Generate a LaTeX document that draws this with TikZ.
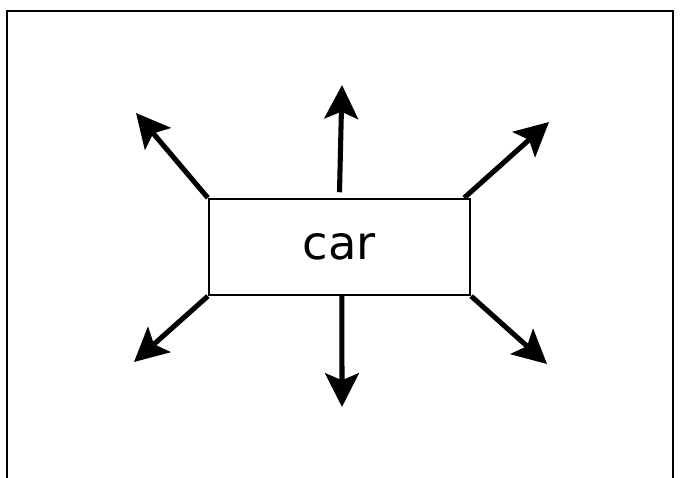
\documentclass[tikz,border=0pt]{standalone}
\usepackage{fontspec}
\setmainfont{DejaVu Sans}
\usepackage{tikz}
\usetikzlibrary{arrows.meta,positioning,calc}

\begin{document}
\begin{tikzpicture}[x=0.025cm, y=-0.025cm, box/.style={draw, line width=1.6pt, minimum width=6.525cm, minimum height=2.4cm, font=\fontsize{33}{39}\selectfont}, arr/.style={-{Stealth[length=24pt, width=24pt, inset=5pt]}, line width=3.6pt}]
\useasboundingbox (0,0) rectangle (683,478);
\draw[line width=1.8pt] (7,478) -- (7,11) -- (673,11) -- (673,478);
\node[box] (car) at (339.5,247) {car};
\coordinate (tl) at (136,113);
\coordinate (tm) at (342,85);
\coordinate (tr) at (549,122);
\coordinate (bl) at (134,362);
\coordinate (bm) at (342,407);
\coordinate (br) at (547,364);
\draw[arr] (car.north west) -- (tl);
\draw[arr] ([yshift=4pt]car.north) -- (tm);
\draw[arr] ([xshift=-0.175cm]car.north east) -- (tr);
\draw[arr] (car.south west) -- (bl);
\draw[arr] ([xshift=0.06cm]car.south) -- (bm);
\draw[arr] (car.south east) -- (br);
\end{tikzpicture}
\end{document}
